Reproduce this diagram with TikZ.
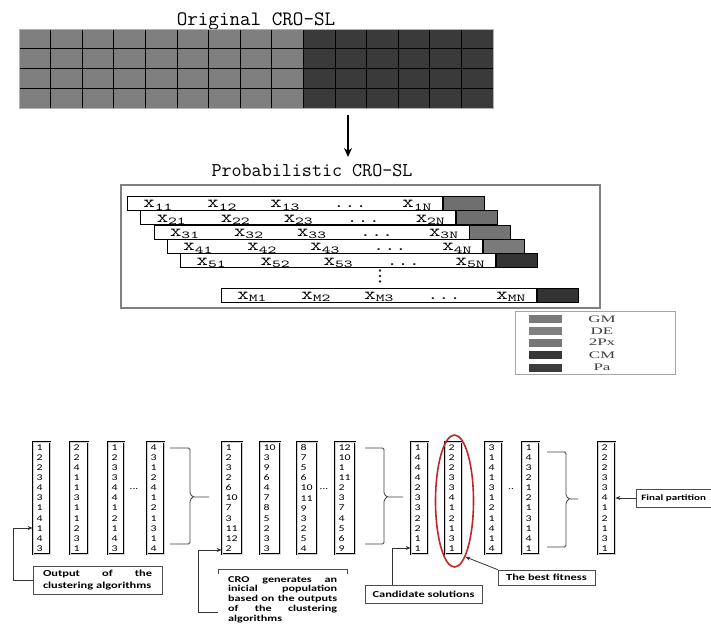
\documentclass[tikz,border=0pt]{standalone}
\usepackage{fontspec}
\usepackage{graphicx}
\usetikzlibrary{arrows.meta,shapes.geometric,calc}
\newfontfamily\lblf[FakeStretch=1.35]{Carlito}
\newfontfamily\legf[FakeStretch=1.7]{Liberation Serif}
\newcommand{\xsub}[1]{\scalebox{1.3}[1]{\ttfamily\fontsize{17}{17}\selectfont x}\raisebox{-2.5pt}{\scalebox{1.6}[1]{\ttfamily\fontsize{10.5}{11}\selectfont #1}}}
\newcommand{\xdots}{\scalebox{1.35}[1]{\ttfamily\fontsize{16}{16}\selectfont ...}}
\definecolor{gridA}{HTML}{7F7F7F}
\definecolor{gridB}{HTML}{3A3A3A}
\definecolor{blkA}{HTML}{6F6F6F}
\definecolor{blkB}{HTML}{747474}
\definecolor{blkC}{HTML}{7A7A7A}
\definecolor{blkD}{HTML}{333333}
\definecolor{legA}{HTML}{7A7A7A}
\definecolor{legB}{HTML}{808080}
\definecolor{legC}{HTML}{777777}
\definecolor{legD}{HTML}{383838}
\definecolor{legE}{HTML}{3C3C3C}
\definecolor{bestred}{HTML}{C0272D}
\begin{document}
\begin{tikzpicture}[x=1pt,y=-1pt,
  rowbox/.style={draw, fill=white, line width=0.8pt, minimum width=315pt, minimum height=14pt, inner sep=0pt},
  blkbox/.style={draw, line width=0.6pt, minimum width=41pt, minimum height=14pt, inner sep=0pt},
  colbox/.style={draw=black, double=gray!35, double distance=0.7pt, line width=0.7pt,
    minimum height=112pt, inner xsep=3.5pt, inner ysep=0pt, align=left,
    font=\lblf\fontsize{8.8}{10.1}\selectfont, text width=#1},
  lblbox/.style={draw=gray!60!black, line width=0.8pt, fill=white, inner sep=0pt,
    font=\lblf\bfseries\fontsize{9.2}{12}\selectfont},
  lbltext/.style={font=\lblf\bfseries\fontsize{9}{9.8}\selectfont},
  conn/.style={draw=black!80, line width=0.8pt, -{Stealth[length=5pt,width=4pt]}},
  brc/.style={draw=black!75, line width=0.8pt, rounded corners=1.5pt},
  dotsn/.style={font=\lblf\fontsize{8.5}{10}\selectfont, inner sep=0pt}
]
\clip (0,0) rectangle (711,624);
\fill[white] (0,0) rectangle (711,624);

% ---------- Original CRO-SL ----------
\node[anchor=base, font=\ttfamily\fontsize{20.5}{24}\selectfont, inner sep=0pt] (t1) at (256,25) {Original CRO-SL};
\fill[gridA] (19,29) rectangle (303.4,108);
\fill[gridB] (303.4,29) rectangle (493,108);
\foreach \c in {1,...,14}{\draw[black, line width=0.8pt] ({19+31.6*\c},29) -- ({19+31.6*\c},108);}
\foreach \r in {1,2,3}{\draw[black, line width=0.8pt] (19,{29+19.75*\r}) -- (493,{29+19.75*\r});}
\draw[gray!60, line width=0.6pt] (19,29) rectangle (493,108);

\coordinate (a0) at (348,115);
\coordinate (a1) at (348,157);
\draw[line width=1.6pt, -{Stealth[length=9pt,width=8pt]}] (a0) -- (a1);

% ---------- Probabilistic CRO-SL ----------
\node[anchor=base, font=\ttfamily\fontsize{19.5}{24}\selectfont, inner sep=0pt] (t2) at (312,176.5) {Probabilistic CRO-SL};
\node[draw=gray, line width=1.5pt, minimum width=479pt, minimum height=123pt, anchor=north west, inner sep=0pt] (pbox) at (120,184) {};

\foreach \n/\lx/\ty/\bc in {1/127/196/blkA,2/140.3/210.3/blkA,3/153.6/224.6/blkB,4/166.9/238.9/blkC,5/180.2/253.2/blkD,M/221/287.5/blkD}{
  \node[rowbox, anchor=north west] (r\n) at (\lx,\ty) {};
  \node[blkbox, fill=\bc, anchor=north west] (b\n) at (r\n.north east) {};
  \node[anchor=base, inner sep=0pt] (x\n a) at ($(r\n.south west)+(31,-3)$) {\xsub{\n1}};
  \node[anchor=base, inner sep=0pt] (x\n b) at ($(r\n.south west)+(95,-3)$) {\xsub{\n2}};
  \node[anchor=base, inner sep=0pt] (x\n c) at ($(r\n.south west)+(158,-3)$) {\xsub{\n3}};
  \node[anchor=base, inner sep=0pt] (x\n d) at ($(r\n.south west)+(223,-3)$) {\xdots};
  \node[anchor=base, inner sep=0pt] (x\n e) at ($(r\n.south west)+(290,-3)$) {\xsub{\n N}};
}
\foreach \yy in {270.5,276,281.5}{\fill[black!85] (380,\yy) circle (1.3);}

% ---------- Legend ----------
\node[draw=gray!70, line width=0.8pt, minimum width=160pt, minimum height=63pt, anchor=north west, inner sep=0pt] (leg) at (515,311) {};
\foreach \k/\c/\t/\yy in {1/legA/GM/319,2/legB/DE/331,3/legC/2Px/342.5,4/legD/CM/355,5/legE/Pa/367.5}{
  \node[fill=\c, minimum width=33pt, minimum height=8pt, inner sep=0pt] (s\k) at (545.5,\yy) {};
  \node[font=\legf\fontsize{10}{11}\selectfont, text=black!75, inner sep=0pt] (l\k) at (602,\yy) {\t};
}

% ---------- Bottom columns ----------
\node[colbox=10pt] (c1) at (41.5,498) {1\\2\\2\\3\\4\\3\\1\\4\\1\\4\\3};
\node[colbox=11pt] (c2) at (79,498) {2\\2\\4\\1\\1\\3\\1\\1\\2\\3\\1};
\node[colbox=9pt] (c3) at (116,498) {1\\2\\3\\3\\4\\4\\1\\2\\1\\4\\3};
\node[colbox=10pt] (c4) at (155.5,498) {4\\3\\1\\2\\4\\1\\2\\1\\3\\1\\4};
\node[dotsn] (d1) at (134,489) {...};

\node[colbox=13pt] (c5) at (232,498) {1\\2\\3\\2\\6\\10\\7\\3\\11\\12\\2};
\node[colbox=13pt] (c6) at (270,498) {10\\3\\9\\6\\4\\7\\8\\5\\2\\3\\3};
\node[colbox=13pt] (c7) at (307,498) {8\\7\\5\\6\\10\\11\\9\\3\\2\\5\\4};
\node[colbox=13pt] (c8) at (345,498) {12\\10\\1\\11\\2\\3\\7\\4\\5\\6\\9};
\node[dotsn] (d2) at (324,489) {...};

\node[colbox=10pt] (c9) at (419.5,498) {1\\4\\4\\4\\2\\3\\3\\2\\2\\1\\1};
\node[colbox=10pt] (c10) at (453.5,498) {2\\2\\2\\3\\3\\4\\1\\2\\1\\3\\1};
\node[colbox=10pt] (c11) at (493.5,498) {3\\1\\4\\1\\3\\1\\2\\1\\4\\1\\4};
\node[colbox=10pt] (c12) at (530.5,498) {1\\4\\3\\2\\1\\2\\1\\3\\1\\4\\1};
\node[dotsn] (d3) at (511,489) {..};

\node[colbox=10pt] (c13) at (606.5,498) {2\\2\\2\\3\\3\\4\\1\\2\\1\\3\\1};

\node[draw=bestred, ellipse, line width=1.6pt, minimum width=38pt, minimum height=132pt, inner sep=0pt] (best) at (454.5,501) {};

% braces
\draw[brc] (170,448) -- (190,448) -- (190,494) -- (193,497) -- (209,497);
\draw[brc] (193,497) -- (190,500) -- (190,544) -- (170,544);
\draw[brc] (365,448) -- (384,448) -- (384,494) -- (387,497) -- (403,497);
\draw[brc] (387,497) -- (384,500) -- (384,544) -- (365,544);
\draw[brc] (547,452) -- (566,452) -- (566,496) -- (569,499) -- (578,499);
\draw[brc] (569,499) -- (566,502) -- (566,547) -- (547,547);

% ---------- Labels ----------
\node[lblbox, minimum width=129pt, minimum height=28pt, text width=109pt, inner xsep=10pt, align=left] (out) at (97.5,580)
  {\makebox[109pt][l]{Output\hfill of\hfill the}\\clustering algorithms};
\node[lbltext, text width=109pt, inner xsep=10pt, inner ysep=7pt, anchor=north west, align=left] (cro) at (218,569)
  {\makebox[109pt][l]{CRO\hfill generates\hfill an}\\\makebox[109pt][l]{inicial\hfill population}\\\makebox[109pt][l]{based\hfill on\hfill the\hfill outputs}\\\makebox[109pt][l]{of\hfill the\hfill clustering}\\algorithms};
\draw[gray!60!black, line width=0.7pt] ([yshift=-5pt]cro.north west) -- (cro.north west) -- (cro.north east) -- ([yshift=-5pt]cro.north east);
\node[lblbox, minimum width=117pt, minimum height=18pt] (cand) at (423.5,594) {Candidate solutions};
\node[lblbox, minimum width=97pt, minimum height=15pt] (fit) at (546.5,577.5) {The best fitness};
\node[lblbox, font=\lblf\bfseries\fontsize{8.2}{10}\selectfont, minimum height=18pt, anchor=west, inner xsep=5pt] (fp) at (636,498) {Final partition};

% ---------- Connectors ----------
\coordinate (k1) at (13,528);
\draw[conn] (out.west) -| (k1) -- (c1.west |- k1);
\coordinate (k2) at (198,550);
\draw[conn] (cro.west |- 0,612) -| (k2) -- (c5.west |- k2);
\coordinate (k3) at (392,548);
\draw[conn] (cand.north -| k3) -- (k3) -- (c9.west |- k3);
\draw[conn] (fit.north west) -- (best.-79);
\draw[conn] (fp.west) -- (c13.east |- fp.west);
\end{tikzpicture}
\end{document}
